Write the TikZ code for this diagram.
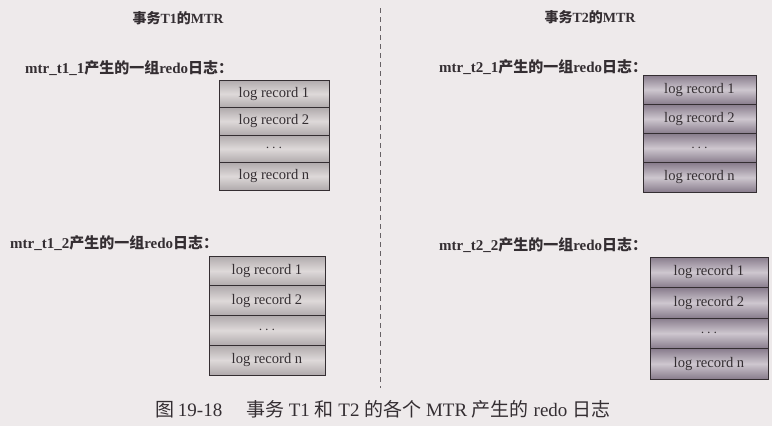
\documentclass[tikz,border=0pt]{standalone}
\usepackage{fontspec}
\setmainfont{Liberation Serif}
\newfontfamily\cjk{Noto Sans CJK SC}
\usetikzlibrary{positioning}

\definecolor{paper}{RGB}{238,234,235}
\definecolor{ink}{RGB}{52,46,50}
\definecolor{greyedge}{RGB}{176,170,172}
\definecolor{greymid}{RGB}{222,217,217}
\definecolor{mauveedge}{RGB}{136,124,140}
\definecolor{mauvemid}{RGB}{206,199,207}

\newcommand{\zh}[1]{{\cjk #1}}

\begin{document}
\begin{tikzpicture}[x=1pt, y=-1pt, node distance=0pt,
    rec/.style={draw=ink, line width=0.9pt, outer sep=0pt, inner sep=0pt, text=ink, font=\fontsize{14.6}{14.6}\selectfont},
    recone/.style={rec, top color=greyedge, bottom color=greyedge, middle color=greymid},
    rectwo/.style={rec, top color=mauveedge, bottom color=mauveedge, middle color=mauvemid},
    head/.style={text=ink, font=\bfseries\fontsize{14}{14}\selectfont},
    grouplbl/.style={text=ink, anchor=west, inner sep=0pt, font=\bfseries\fontsize{15}{15}\selectfont},
    divider/.style={draw=ink!75, line width=0.6pt, dash pattern=on 5pt off 4pt},
    ]

    \fill[paper] (0,0) rectangle (772,426);
    \useasboundingbox (0,0) rectangle (772,426);

    \coordinate (divtop) at (380,8);
    \coordinate (divbot) at (380,388);
    \draw[divider] (divtop) -- (divbot);

    \node(titleT1)[head] at (178,18) {\zh{事务}T1\zh{的}MTR};
    \node(titleT2)[head] at (590,17) {\zh{事务}T2\zh{的}MTR};

    \node(lbl11)[grouplbl] at (25,68) {mtr\_t1\_1\zh{产生的一组}redo\zh{日志：}};
    \node(lbl21)[grouplbl] at (439,67) {mtr\_t2\_1\zh{产生的一组}redo\zh{日志：}};
    \node(lbl12)[grouplbl] at (10,243) {mtr\_t1\_2\zh{产生的一组}redo\zh{日志：}};
    \node(lbl22)[grouplbl] at (439,245) {mtr\_t2\_2\zh{产生的一组}redo\zh{日志：}};

    % T1, first mtr
    \begin{scope}[every node/.append style={minimum width=110pt, minimum height=27.5pt}]
    \node(s11r1)[recone, anchor=north west] at (219,80) {log record 1};
    \node(s11r2)[recone, below=of s11r1] {log record 2};
    \node(s11dots)[recone, below=of s11r2] {$\cdots$};
    \node(s11rn)[recone, below=of s11dots] {log record n};
    \end{scope}

    % T1, second mtr
    \begin{scope}[every node/.append style={minimum width=116pt, minimum height=29.75pt}]
    \node(s12r1)[recone, anchor=north west] at (209,256) {log record 1};
    \node(s12r2)[recone, below=of s12r1] {log record 2};
    \node(s12dots)[recone, below=of s12r2] {$\cdots$};
    \node(s12rn)[recone, below=of s12dots] {log record n};
    \end{scope}

    % T2, first mtr
    \begin{scope}[every node/.append style={minimum width=113pt, minimum height=29.25pt}]
    \node(s21r1)[rectwo, anchor=north west] at (643,75) {log record 1};
    \node(s21r2)[rectwo, below=of s21r1] {log record 2};
    \node(s21dots)[rectwo, below=of s21r2] {$\cdots$};
    \node(s21rn)[rectwo, below=of s21dots] {log record n};
    \end{scope}

    % T2, second mtr
    \begin{scope}[every node/.append style={minimum width=118pt, minimum height=30.5pt}]
    \node(s22r1)[rectwo, anchor=north west] at (650,257) {log record 1};
    \node(s22r2)[rectwo, below=of s22r1] {log record 2};
    \node(s22dots)[rectwo, below=of s22r2] {$\cdots$};
    \node(s22rn)[rectwo, below=of s22dots] {log record n};
    \end{scope}

    \node(caption)[text=ink, font=\fontsize{19}{19}\selectfont] at (383,409)
        {\zh{图}\,19-18\quad\ \zh{事务} T1 \zh{和} T2 \zh{的各个} MTR \zh{产生的} redo \zh{日志}};

\end{tikzpicture}
\end{document}
